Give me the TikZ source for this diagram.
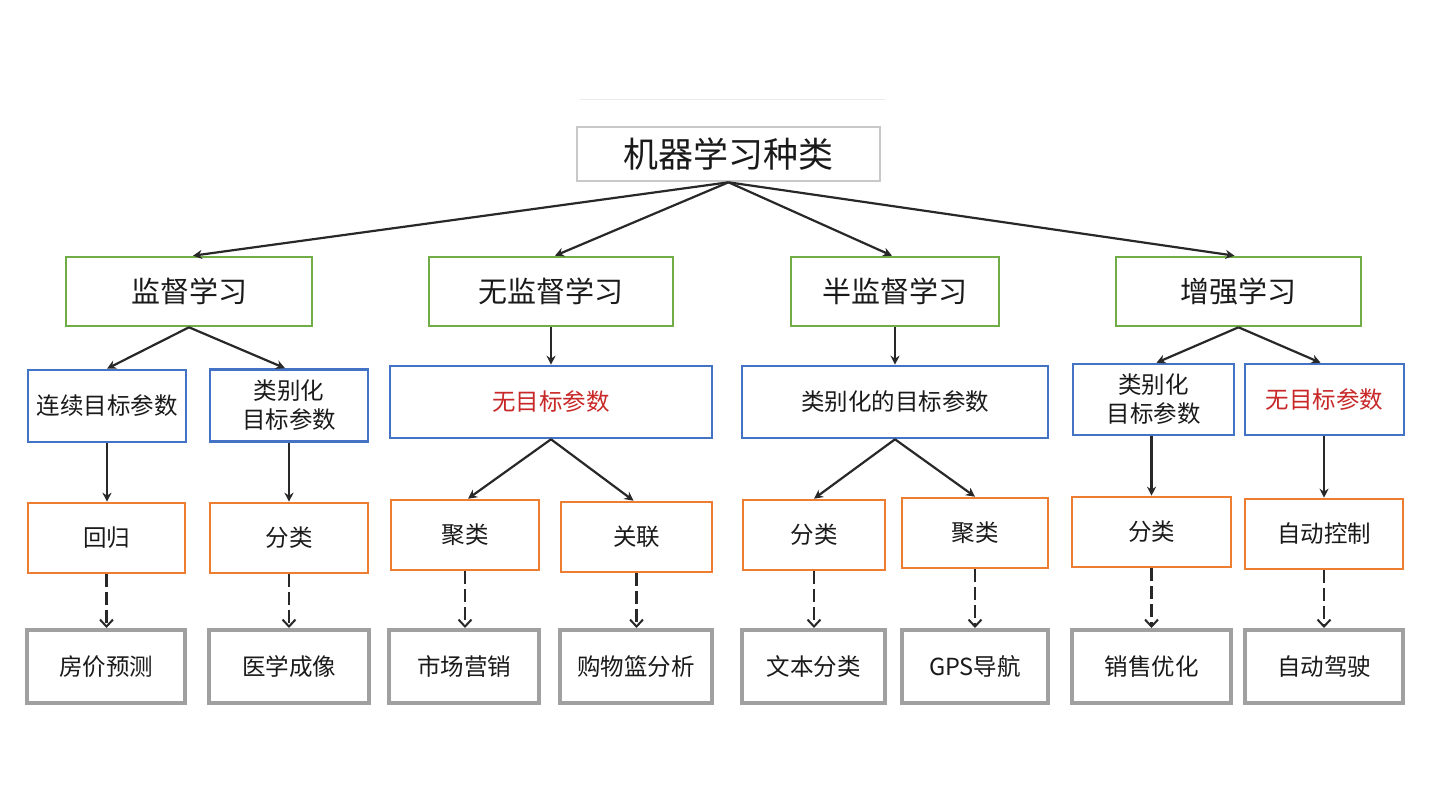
\documentclass[tikz,border=0pt]{standalone}
\usepackage{fontspec}
\setmainfont{Noto Sans CJK SC}
\usetikzlibrary{arrows.meta}
\definecolor{cgreen}{RGB}{112,173,71}
\definecolor{cblue}{RGB}{68,114,196}
\definecolor{corange}{RGB}{237,125,49}
\definecolor{cgray}{RGB}{160,160,160}
\definecolor{croot}{RGB}{200,200,200}
\definecolor{cred}{RGB}{200,40,40}
\definecolor{ctext}{RGB}{26,26,26}
\definecolor{carrow}{RGB}{40,40,40}
\begin{document}
\begin{tikzpicture}[x=1pt,y=-1pt,
  box/.style={draw, line width=2.6pt, inner sep=0pt, text=ctext, align=center,
    font={\fontsize{23.5pt}{29pt}\selectfont}},
  rootbox/.style={box, draw=croot, font={\fontsize{35pt}{40pt}\selectfont}},
  gbox/.style={box, draw=cgreen, minimum height=69pt, font={\fontsize{29pt}{34pt}\selectfont}},
  bbox/.style={box, draw=cblue, minimum height=72pt},
  obox/.style={box, draw=corange, minimum height=70pt},
  xbox/.style={box, draw=cgray, line width=4pt, minimum height=73pt},
  redtext/.style={text=cred},
  arr/.style={draw=carrow, line width=2.2pt, -{Stealth[length=9pt,width=9pt]}},
  darr/.style={draw=carrow, line width=2.2pt, dash pattern=on 13pt off 5pt,
    -{Straight Barb[length=7pt,width=13pt,line width=2pt]}}
]
\useasboundingbox (0,0) rectangle (1440,810);
\fill[white] (0,0) rectangle (1440,810);
\draw[black!8, line width=1pt] (580,100) -- (885,100);

% root
\node[rootbox, minimum width=303pt, minimum height=54pt] (root) at (728.5,154) {机器学习种类};

% level 1
\node[gbox, minimum width=246pt] (s1) at (189,291.5) {监督学习};
\node[gbox, minimum width=244pt] (s2) at (551,291.5) {无监督学习};
\node[gbox, minimum width=208pt] (s3) at (895,291.5) {半监督学习};
\node[gbox, minimum width=245pt] (s4) at (1238.5,291.5) {增强学习};

% level 2
\node[bbox, minimum width=158pt] (b1) at (107,406) {连续目标参数};
\node[bbox, minimum width=158pt] (b2) at (289,405.5) {类别化\\目标参数};
\node[bbox, minimum width=322pt, redtext] (b3) at (551,402) {无目标参数};
\node[bbox, minimum width=306pt] (b4) at (895,402) {类别化的目标参数};
\node[bbox, minimum width=161pt, minimum height=71pt] (b5) at (1153.5,399.5) {类别化\\目标参数};
\node[bbox, minimum width=159pt, minimum height=71pt, redtext] (b6) at (1324.5,399.5) {无目标参数};

% level 3
\node[obox, minimum width=157pt] (o1) at (106.5,538) {回归};
\node[obox, minimum width=158pt] (o2) at (289,538) {分类};
\node[obox, minimum width=148pt] (o3) at (465,535) {聚类};
\node[obox, minimum width=151pt] (o4) at (636.5,537) {关联};
\node[obox, minimum width=142pt] (o5) at (814,535) {分类};
\node[obox, minimum width=146pt] (o6) at (975,533) {聚类};
\node[obox, minimum width=159pt] (o7) at (1151.5,532) {分类};
\node[obox, minimum width=158pt] (o8) at (1324,534) {自动控制};

% level 4
\node[xbox, minimum width=158pt] (g1) at (106,666.5) {房价预测};
\node[xbox, minimum width=160pt] (g2) at (289,666.5) {医学成像};
\node[xbox, minimum width=150pt] (g3) at (464,666.5) {市场营销};
\node[xbox, minimum width=152pt] (g4) at (636,666.5) {购物篮分析};
\node[xbox, minimum width=143pt] (g5) at (813.5,666.5) {文本分类};
\node[xbox, minimum width=146pt] (g6) at (975,666.5) {GPS导航};
\node[xbox, minimum width=159pt] (g7) at (1151.5,666.5) {销售优化};
\node[xbox, minimum width=158pt] (g8) at (1324,666.5) {自动驾驶};

% arrows root -> level 1
\draw[arr] (root.south) -- ([xshift=4pt]s1.north);
\draw[arr] (root.south) -- ([xshift=4pt]s2.north);
\draw[arr] (root.south) -- ([xshift=-3pt]s3.north);
\draw[arr] (root.south) -- ([xshift=-4pt]s4.north);

% level 1 -> level 2
\draw[arr] (s1.south) -- (b1.north);
\draw[arr] (s1.south) -- ([xshift=-4pt]b2.north);
\draw[arr] (s2.south) -- (b3.north -| s2.south);
\draw[arr] (s3.south) -- (b4.north -| s3.south);
\draw[arr] (s4.south) -- ([xshift=3pt]b5.north);
\draw[arr] (s4.south) -- ([xshift=-4pt]b6.north);

% level 2 -> level 3
\draw[arr] (b1.south) -- (o1.north -| b1.south);
\draw[arr] (b2.south) -- (o2.north -| b2.south);
\draw[arr] (b3.south) -- ([xshift=3pt]o3.north);
\draw[arr] (b3.south) -- ([xshift=-3pt]o4.north);
\draw[arr] (b4.south) -- (o5.north);
\draw[arr] (b4.south) -- (o6.north);
\draw[arr] (b5.south -| o7.north) -- (o7.north);
\draw[arr] (b6.south -| o8.north) -- (o8.north);

% level 3 -> level 4 (dashed)
\draw[darr] (o1.south) -- (g1.north -| o1.south);
\draw[darr] (o2.south) -- (g2.north -| o2.south);
\draw[darr] (o3.south) -- (g3.north -| o3.south);
\draw[darr] (o4.south) -- (g4.north -| o4.south);
\draw[darr] (o5.south) -- (g5.north -| o5.south);
\draw[darr] (o6.south) -- (g6.north -| o6.south);
\draw[darr] (o7.south) -- (g7.north -| o7.south);
\draw[darr] (o8.south) -- (g8.north -| o8.south);
\end{tikzpicture}
\end{document}
